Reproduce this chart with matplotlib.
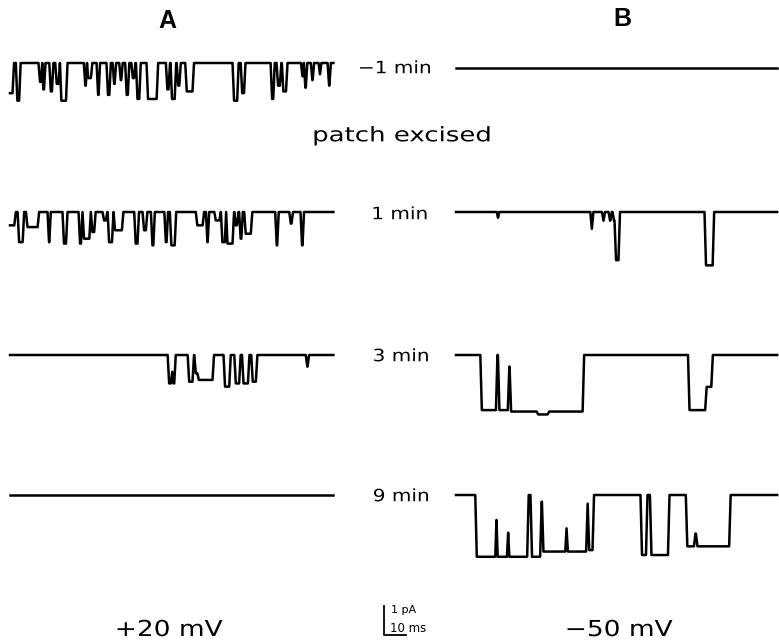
import matplotlib
matplotlib.use("Agg")
import matplotlib.pyplot as plt
import numpy as np
from matplotlib.textpath import TextPath
from matplotlib.patches import PathPatch
from matplotlib.font_manager import FontProperties
from matplotlib.transforms import Affine2D, IdentityTransform

# ---------------- data (time in ms, current in pA) ----------------
DURATION_A = 147.0
DURATION_B = 146.0

# Each event: (start_ms, end_ms, current_pA); baseline (0 pA) elsewhere
A_minus1 = [
    (0.0, 1.5, -1.04), (3.0, 4.5, -1.30), (13.3, 14.5, -0.65), (14.8, 15.8, -0.91),
    (18.2, 19.4, -0.98), (20.9, 22.4, -0.72), (23.0, 25.8, -1.30), (33.9, 34.8, -0.78),
    (35.2, 37.1, -0.52), (39.7, 40.6, -1.10), (44.2, 45.5, -1.10), (47.0, 47.9, -0.72),
    (50.0, 50.9, -0.59), (52.7, 53.9, -1.10), (55.5, 56.7, -0.52), (57.6, 59.1, -1.24),
    (62.4, 67.0, -1.24), (71.2, 72.4, -0.91), (73.3, 75.2, -1.24), (76.1, 77.3, -0.78),
    (80.0, 83.3, -0.98), (101.5, 103.6, -1.30), (105.2, 106.7, -1.04), (118.8, 120.0, -1.24),
    (121.5, 123.0, -0.78), (123.9, 125.8, -0.98), (132.6, 133.3, -0.46), (133.9, 134.8, -0.85),
    (137.1, 137.9, -0.59), (140.6, 141.2, -0.39), (144.7, 145.5, -0.78),
]
A_1 = [
    (0.0, 2.3, -0.46), (3.8, 6.1, -1.04), (7.6, 12.9, -0.52), (17.4, 18.2, -1.04),
    (24.2, 25.8, -1.09), (31.5, 32.6, -1.09), (33.3, 36.4, -0.92), (37.1, 38.6, -0.69),
    (42.4, 43.9, -0.29), (44.7, 46.7, -1.04), (47.4, 51.2, -0.63), (56.8, 58.3, -1.09),
    (60.6, 62.1, -0.63), (64.4, 65.5, -1.15), (70.5, 71.5, -1.04), (73.0, 75.2, -1.15),
    (84.8, 87.9, -0.46), (89.4, 90.2, -1.04), (93.2, 95.5, -0.29), (96.2, 98.0, -1.04),
    (98.5, 101.5, -1.09), (102.3, 103.5, -0.46), (104.5, 105.5, -0.92), (106.8, 109.8, -0.75),
    (120.9, 121.8, -1.15), (127.3, 128.3, -0.40), (132.4, 133.3, -1.15),
]
A_3 = [
    (72.0, 73.5, -0.98), (73.5, 74.0, -0.58), (74.0, 75.0, -0.98), (81.1, 83.3, -0.92),
    (84.1, 85.5, -0.63), (85.5, 92.4, -0.86), (97.4, 100.0, -1.09), (102.3, 104.5, -0.98),
    (105.8, 108.5, -0.98), (110.0, 112.1, -0.92), (134.8, 135.6, -0.40),
]
A_9 = []

B_minus1 = []
B_1 = [
    (18.9, 19.3, -0.20), (61.4, 62.1, -0.58), (66.7, 67.4, -0.30), (69.7, 70.5, -0.30),
    (71.5, 72.4, -0.30), (72.4, 74.2, -1.66), (113.3, 117.0, -1.84),
]
B_3 = [
    (11.4, 18.5, -1.90), (19.4, 23.9, -1.90), (23.9, 24.7, -0.40), (24.7, 37.0, -1.95),
    (37.0, 42.0, -2.05), (42.0, 57.9, -1.95), (105.8, 113.6, -1.90), (113.6, 116.4, -1.10),
]
B_9 = [
    (9.1, 18.2, -2.13), (18.2, 18.6, -0.86), (18.6, 23.5, -2.13), (23.5, 23.9, -1.30),
    (23.9, 32.7, -2.13), (34.2, 38.6, -2.13), (38.6, 39.4, -0.23), (39.4, 50.0, -1.95),
    (50.0, 50.5, -1.15), (50.5, 59.5, -1.95), (59.5, 60.2, -0.30), (60.2, 62.4, -1.90),
    (84.2, 86.7, -2.07), (88.5, 96.7, -2.07), (104.8, 108.5, -1.77), (108.5, 109.4, -1.33),
    (109.4, 124.5, -1.77),
]

row_labels = ["\u22121 min", "1 min", "3 min", "9 min"]
column_titles = ["A", "B"]
voltage_labels = ["+20 mV", "\u221250 mV"]
middle_label = "patch excised"
scale_ms = 10
scale_pA = 1

# ---------------- layout (pixels) ----------------
W, H = 779, 642
PX_PER_MS = 2.2
PX_PER_PA = 29.0
A_X0_PX = 10
B_X0_PX = 456
A_ROW_PX = [63, 212, 355, 495]
B_ROW_PX = [68, 212, 355, 495]
RISE_MS = 0.7


def segments(events, duration):
    segs = []
    cur = 0.0
    for s, e, lvl in sorted(events):
        if s > cur + 1e-9:
            segs.append((cur, s, 0.0))
        segs.append((s, e, lvl))
        cur = e
    if cur < duration:
        segs.append((cur, duration, 0.0))
    return segs


def trace_vertices(events, duration):
    t, y = [], []
    segs = segments(events, duration)
    for i, (s, e, lvl) in enumerate(segs):
        a = s if i == 0 else s + RISE_MS / 2
        b = e if i == len(segs) - 1 else e - RISE_MS / 2
        if b - a <= 0:
            m = 0.5 * (s + e)
            t.append(m)
            y.append(lvl)
        else:
            t += [a, b]
            y += [lvl, lvl]
    return np.array(t), np.array(y)


fig = plt.figure(figsize=(W / 100, H / 100), dpi=100)
ax = fig.add_axes([0, 0, 1, 1])
ax.set_xlim(0, W / PX_PER_MS)
ax.set_ylim(-H / PX_PER_PA, 0)
ax.axis("off")

colA = [A_minus1, A_1, A_3, A_9]
colB = [B_minus1, B_1, B_3, B_9]

for events, ypx in zip(colA, A_ROW_PX):
    t, y = trace_vertices(events, DURATION_A)
    ax.plot(t + A_X0_PX / PX_PER_MS, y - ypx / PX_PER_PA, color="black", lw=1.8,
            solid_joinstyle="round")
for events, ypx in zip(colB, B_ROW_PX):
    t, y = trace_vertices(events, DURATION_B)
    ax.plot(t + B_X0_PX / PX_PER_MS, y - ypx / PX_PER_PA, color="black", lw=1.8,
            solid_joinstyle="round")

# scale bar
sb_x = 384 / PX_PER_MS
sb_y = -635 / PX_PER_PA
ax.plot([sb_x, sb_x, sb_x + scale_ms], [sb_y + scale_pA, sb_y, sb_y], color="black", lw=1.3)

FP = FontProperties(family="DejaVu Sans")


def stretched_text(xc, ycap_mid, s, size_px, sx):
    """Text centred horizontally at xc; cap-height centred at ycap_mid (pixels, from top)."""
    path = TextPath((0, 0), s, size=size_px, prop=FP)
    ext = path.get_extents()
    cap = 0.73 * size_px
    x_mid = 0.5 * (ext.x0 + ext.x1)
    tr = (Affine2D().translate(-x_mid, -cap / 2).scale(sx, 1.0)
          .translate(xc, H - ycap_mid))
    patch = PathPatch(path, transform=tr + IdentityTransform(), facecolor="black",
                      edgecolor="none")
    fig.patches.append(patch)
    patch.set_figure(fig)


def ftext(xpx, ypx, s, **kw):
    fig.text(xpx / W, 1 - ypx / H, s, **kw)


ftext(167, 21, column_titles[0], ha="center", va="center", fontsize=18, fontweight="bold",
      family="Liberation Sans")
ftext(622, 19, column_titles[1], ha="center", va="center", fontsize=18, fontweight="bold",
      family="Liberation Sans")

label_y = [67, 213, 355, 495]
label_x = [395, 400, 401, 401]
for s, xx, yy in zip(row_labels, label_x, label_y):
    stretched_text(xx, yy, s, 17, 1.18)
stretched_text(402, 134, middle_label, 20, 1.3)

stretched_text(170, 628, voltage_labels[0], 22, 1.2)
stretched_text(620, 628, voltage_labels[1], 22, 1.2)
ftext(391, 610, f"{scale_pA} pA", ha="left", va="center", fontsize=8, family="DejaVu Sans")
ftext(390, 629, f"{scale_ms} ms", ha="left", va="center", fontsize=8.5, family="DejaVu Sans")

fig.savefig("out.png", dpi=100, facecolor="white")
